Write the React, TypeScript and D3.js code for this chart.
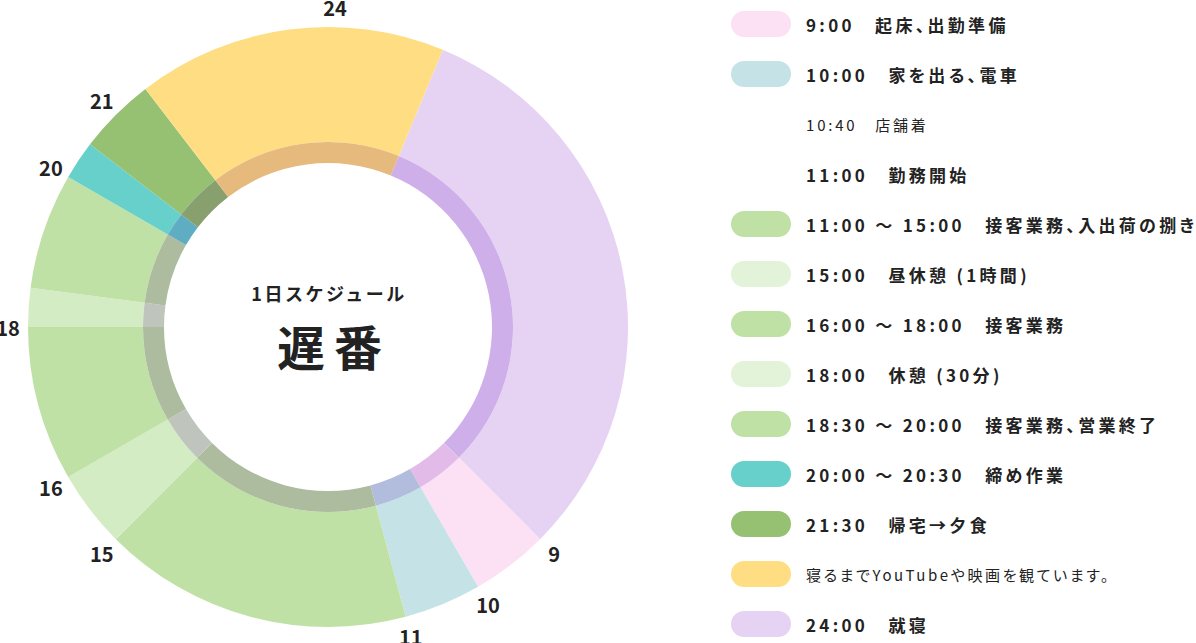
import React from "react";
import * as d3 from "d3";

// ---- data ----
const segStarts = [1.5, 9, 10, 11, 15, 16, 18, 18.5, 20, 20.5, 21.5];
const segEnds = [9, 10, 11, 15, 16, 18, 18.5, 20, 20.5, 21.5, 25.5];
const segColors = [
  "#e6d3f4", "#fce1f4", "#c5e2e6", "#c0e1a6", "#d4ecc4", "#c0e1a6",
  "#d4ecc4", "#c0e1a6", "#68d0cb", "#96c173", "#ffde83",
];
const hourLabels = [9, 10, 11, 15, 16, 18, 20, 21, 24];

const legendTexts = [
  "9:00　起床、出勤準備",
  "10:00　家を出る、電車",
  "10:40　店舗着",
  "11:00　勤務開始",
  "11:00 ～ 15:00　接客業務、入出荷の捌き",
  "15:00　昼休憩 (1時間)",
  "16:00 ～ 18:00　接客業務",
  "18:00　休憩 (30分)",
  "18:30 ～ 20:00　接客業務、営業終了",
  "20:00 ～ 20:30　締め作業",
  "21:30　帰宅→夕食",
  "寝るまでYouTubeや映画を観ています。",
  "24:00　就寝",
];
const legendColors: (string | null)[] = [
  "#fce1f4", "#c5e2e6", null, null, "#c0e1a6", "#e2f3d9", "#c0e1a6",
  "#e2f3d9", "#c0e1a6", "#68d0cb", "#96c173", "#ffde83", "#e6d3f4",
];
const legendKinds = ["b", "b", "s", "b", "b", "b", "b", "b", "b", "b", "b", "n", "b"];

const centerSub = "1日スケジュール";
const centerTitle = "遅番";

// ---- layout ----
const W = 1196;
const H = 643;
const cx = 328;
const cy = 327;
const rInner = 164;
const rBand = 185;
const rOuter = 300;
const rLabel = 320;
const FONT = '"Noto Sans CJK JP", "Noto Sans", sans-serif';
const tint = d3.rgb("#e6d4f4");

function multiply(c: string) {
  const a = d3.rgb(c);
  return d3.rgb((a.r * tint.r) / 255, (a.g * tint.g) / 255, (a.b * tint.b) / 255).formatHex();
}

const kindStyle: Record<string, { size: number; weight: number; ls: number }> = {
  b: { size: 17, weight: 700, ls: 3.3 },
  s: { size: 15, weight: 400, ls: 2.8 },
  n: { size: 15, weight: 400, ls: 2.6 },
};

export default function App() {
  const angle = d3.scaleLinear().domain([0, 24]).range([0, 2 * Math.PI]);
  const outerArc = d3.arc<any>().innerRadius(rBand).outerRadius(rOuter);
  const bandArc = d3.arc<any>().innerRadius(rInner).outerRadius(rBand);
  const rowY = d3.scaleLinear().domain([0, 1]).range([24, 74]);

  return (
    <svg
      width={W}
      height={H}
      style={{ position: "absolute", left: 0, top: 0, background: "#fff" }}
      fontFamily={FONT}
    >
      <g transform={`translate(${cx},${cy})`}>
        {segStarts.map((s, i) => {
          const d = { startAngle: angle(s), endAngle: angle(segEnds[i]) };
          return (
            <g key={i}>
              <path d={outerArc(d) as string} fill={segColors[i]} />
              <path d={bandArc(d) as string} fill={multiply(segColors[i])} />
            </g>
          );
        })}
        {hourLabels.map((h) => {
          const a = angle(h);
          const x = Math.sin(a) * rLabel + (h === 24 ? 7 : 0);
          const y = -Math.cos(a) * rLabel;
          return (
            <text
              key={h}
              x={x}
              y={y}
              textAnchor="middle"
              dominantBaseline="central"
              fontSize={20}
              fontWeight={700}
              fill="#222"
            >
              {h}
            </text>
          );
        })}
        <text
          x={1}
          y={-34}
          textAnchor="middle"
          dominantBaseline="central"
          fontSize={18}
          fontWeight={700}
          letterSpacing={2.5}
          fill="#222"
        >
          {centerSub}
        </text>
        <text
          x={6}
          y={18}
          textAnchor="middle"
          dominantBaseline="central"
          fontSize={48}
          fontWeight={700}
          letterSpacing={9}
          fill="#222"
        >
          {centerTitle}
        </text>
      </g>
      <g style={{ fontFeatureSettings: '"palt"' }}>
        {legendTexts.map((t, i) => {
          const y = rowY(i);
          const c = legendColors[i];
          const st = kindStyle[legendKinds[i]];
          return (
            <g key={i}>
              {c && <rect x={731} y={y - 13} width={60} height={26} rx={13} fill={c} />}
              <text
                x={806}
                y={y}
                dominantBaseline="central"
                fontSize={st.size}
                fontWeight={st.weight}
                letterSpacing={st.ls}
                fill="#222"
              >
                {t}
              </text>
            </g>
          );
        })}
      </g>
    </svg>
  );
}
